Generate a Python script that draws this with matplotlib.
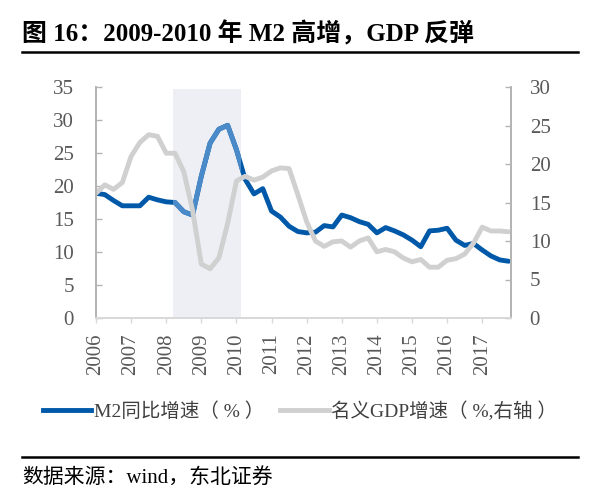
import numpy as np
import matplotlib
matplotlib.use("Agg")
import matplotlib.pyplot as plt
from matplotlib.lines import Line2D

plt.rcParams['font.family'] = ['Liberation Serif', 'Noto Sans CJK SC']

# ---------- data (quarterly) ----------
quarters = np.arange(2006, 2018, 0.25)

m2 = [18.9, 18.7, 17.8, 17.0, 17.0, 17.0, 18.3, 17.9,
      17.6, 17.5, 16.1, 15.6, 21.5, 26.5, 28.6, 29.2,
      25.5, 21.0, 18.8, 19.6, 16.2, 15.3, 13.9, 13.1,
      12.9, 13.0, 14.0, 13.8, 15.6, 15.2, 14.6, 14.2,
      12.9, 13.7, 13.2, 12.6, 11.8, 10.8, 13.2, 13.3,
      13.6, 11.8, 11.0, 11.3, 10.3, 9.4, 8.8, 8.6]

gdp = [16.2, 17.3, 16.7, 17.6, 21.0, 22.8, 23.8, 23.6,
       21.4, 21.4, 19.0, 14.0, 7.0, 6.4, 7.8, 12.3,
       17.8, 18.4, 17.9, 18.3, 19.1, 19.5, 19.4, 16.0,
       12.5, 10.0, 9.3, 9.9, 10.0, 9.2, 10.0, 10.4,
       8.6, 8.9, 8.6, 7.8, 7.3, 7.6, 6.6, 6.6,
       7.5, 7.7, 8.3, 9.7, 11.8, 11.3, 11.3, 11.2]

years = list(range(2006, 2018))
span_start, span_end = 2008.2, 2010.13

title = "图 16：2009-2010 年 M2 高增，GDP 反弹"
source = "数据来源：wind，东北证券"
label_m2 = "M2同比增速（ % ）"
label_gdp = "名义GDP增速（ %,右轴 ）"

dark_blue = '#0058A8'
light_blue = '#4A8AC8'
grey = '#D0D0D0'
tick_col = '#595959'

# ---------- figure ----------
W, H = 591, 499
fig = plt.figure(figsize=(W / 100, H / 100), dpi=100)
ax = fig.add_axes([96 / W, 1 - 318 / H, (511 - 96) / W, (318 - 87) / H])
ax2 = ax.twinx()

shade = ax.axvspan(span_start, span_end, ymin=0.006, ymax=0.99,
                   color='#EDEFF4', lw=0, zorder=0)

ax.plot(quarters, m2, color=dark_blue, lw=3.5, solid_joinstyle='round',
        solid_capstyle='round', zorder=2)
hl, = ax.plot(quarters, m2, color=light_blue, lw=3.5, solid_joinstyle='round',
              zorder=3)
hl.set_clip_path(shade)

ax2.plot(quarters, gdp, color=grey, lw=3.5, solid_joinstyle='round',
         solid_capstyle='round')

ax.set_xlim(2006, 2017.82)
ax.set_ylim(0, 35)
ax2.set_ylim(0, 30)
ax.set_yticks(range(0, 36, 5))
ax2.set_yticks(range(0, 31, 5))
ax.set_xticks(years)
ax.set_xticklabels([str(y) for y in years], rotation=90)

for a in (ax, ax2):
    a.spines['top'].set_visible(False)
    a.spines['left'].set_color('#B4B4B4')
    a.spines['right'].set_color('#B4B4B4')
    a.spines['bottom'].set_color('#D9D9D9')
    for s in a.spines.values():
        s.set_linewidth(1.3)

ax.tick_params(axis='y', direction='in', length=4.5, width=1, color='#B4B4B4',
               pad=16, labelsize=15, labelcolor=tick_col)
ax2.tick_params(axis='y', direction='in', length=4.5, width=1, color='#B4B4B4',
                pad=13.5, labelsize=15, labelcolor=tick_col)
ax.tick_params(axis='x', direction='out', length=3.5, width=1, color='#D9D9D9',
               pad=7.5, labelsize=15, labelcolor=tick_col)

# ---------- title, legend, source ----------
fig.text(22 / W, 1 - 34 / H, title, fontsize=18, fontweight='bold',
         va='center', ha='left', color='black')
fig.add_artist(Line2D([22 / W, 578 / W], [1 - 52 / H] * 2, color='black', lw=1.8))

handles = [Line2D([], [], color=dark_blue, lw=3.5), Line2D([], [], color=grey, lw=3.5)]
fig.legend(handles, [label_m2, label_gdp], loc='center',
           bbox_to_anchor=(300 / W, 1 - 411 / H), ncol=2, frameon=False,
           fontsize=14, handlelength=2.5, handletextpad=0.15, columnspacing=0.8,
           labelcolor='#404040')

fig.add_artist(Line2D([22 / W, 578 / W], [1 - 457 / H] * 2, color='black', lw=1.8))
fig.text(22 / W, 1 - 478 / H, source, fontsize=15, va='center', ha='left')

fig.savefig('out.png', dpi=100)
